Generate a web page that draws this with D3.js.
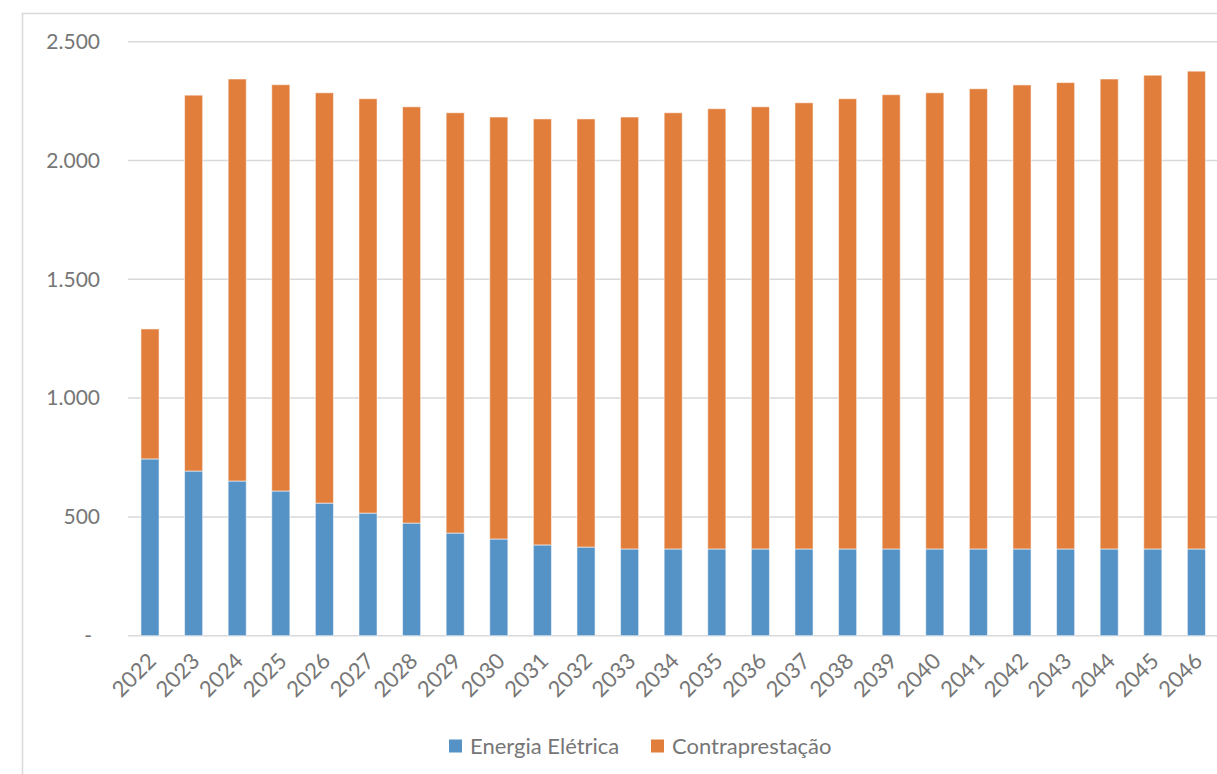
<!DOCTYPE html>
<html>
<head>
<meta charset="utf-8">
<script src="https://cdn.jsdelivr.net/npm/d3@7"></script>
<style>
  html, body { margin: 0; padding: 0; background: #fff; }
  svg { display: block; }
  text { font-family: Lato, "Open Sans", sans-serif; fill: #767676; }
</style>
</head>
<body>
<svg id="chart" width="1217" height="774"></svg>
<script>
// Annual values (thousands)
const years = ["2022","2023","2024","2025","2026","2027","2028","2029","2030","2031","2032","2033","2034",
  "2035","2036","2037","2038","2039","2040","2041","2042","2043","2044","2045","2046"];
const energia = [744, 693, 651, 609, 558, 516, 474, 432, 407, 382, 373, 365, 365,
  365, 365, 365, 365, 365, 365, 365, 365, 365, 365, 365, 365];
const totals = [1291, 2275, 2343, 2319, 2285, 2260, 2226, 2201, 2183, 2175, 2175, 2183, 2201,
  2218, 2226, 2243, 2260, 2277, 2285, 2302, 2318, 2328, 2343, 2359, 2376];
const contraprestacao = totals.map((t, i) => t - energia[i]);
const yTicks = [0, 500, 1000, 1500, 2000, 2500];
const seriesNames = ["Energia Elétrica", "Contraprestação"];
const seriesColors = ["#5592c6", "#e27e3c"];

const svg = d3.select("#chart");

// outer frame
svg.append("rect")
  .attr("x", 22.5).attr("y", 13.5)
  .attr("width", 1300).attr("height", 900)
  .attr("fill", "none").attr("stroke", "#d9d9d9").attr("stroke-width", 1.5);

const x = d3.scaleBand().domain(years).range([128.2, 1218.2]).paddingInner(0.585).paddingOuter(0.2925);
const y = d3.scaleLinear().domain([0, 2500]).range([635.7, 41.7]);

// gridlines
svg.append("g").selectAll("line").data(yTicks).join("line")
  .attr("x1", 128).attr("x2", 1217)
  .attr("y1", d => y(d)).attr("y2", d => y(d))
  .attr("stroke", "#d9d9d9").attr("stroke-width", 1.5);

// y labels
const fmt = d => d === 0 ? "-" : d3.format(",")(d).replace(/,/g, ".");
svg.append("g").selectAll("text").data(yTicks).join("text")
  .attr("x", d => d === 0 ? 92 : 100)
  .attr("y", d => y(d))
  .attr("dy", "0.35em")
  .attr("text-anchor", "end")
  .style("font-size", "21px")
  .text(fmt);

// stacked bars
const table = years.map((yr, i) => ({ year: yr, e: energia[i], c: contraprestacao[i] }));
const stack = d3.stack().keys(["e", "c"])(table);
svg.append("g").selectAll("g").data(stack).join("g")
  .attr("fill", (d, i) => seriesColors[i])
  .selectAll("rect").data(d => d).join("rect")
  .attr("x", d => x(d.data.year))
  .attr("width", x.bandwidth())
  .attr("y", d => y(d[1]))
  .attr("height", d => y(d[0]) - y(d[1]))
  .attr("stroke", "rgba(255,255,255,0.55)")
  .attr("stroke-width", 1);

// x labels
svg.append("g").selectAll("text").data(years).join("text")
  .attr("transform", d => `translate(${x(d) + x.bandwidth() / 2 + 2},${657}) rotate(-45)`)
  .attr("text-anchor", "end")
  .attr("dy", "0.35em")
  .style("font-size", "22px")
  .text(d => d);

// legend
const legend = svg.append("g");
const legendX = [449, 651];
seriesNames.forEach((name, i) => {
  legend.append("rect")
    .attr("x", legendX[i]).attr("y", 739.5)
    .attr("width", 13).attr("height", 13)
    .attr("fill", seriesColors[i]);
  legend.append("text")
    .attr("x", legendX[i] + 21).attr("y", 746)
    .attr("dy", "0.35em")
    .style("font-size", "22px")
    .text(name);
});
</script>
</body>
</html>
